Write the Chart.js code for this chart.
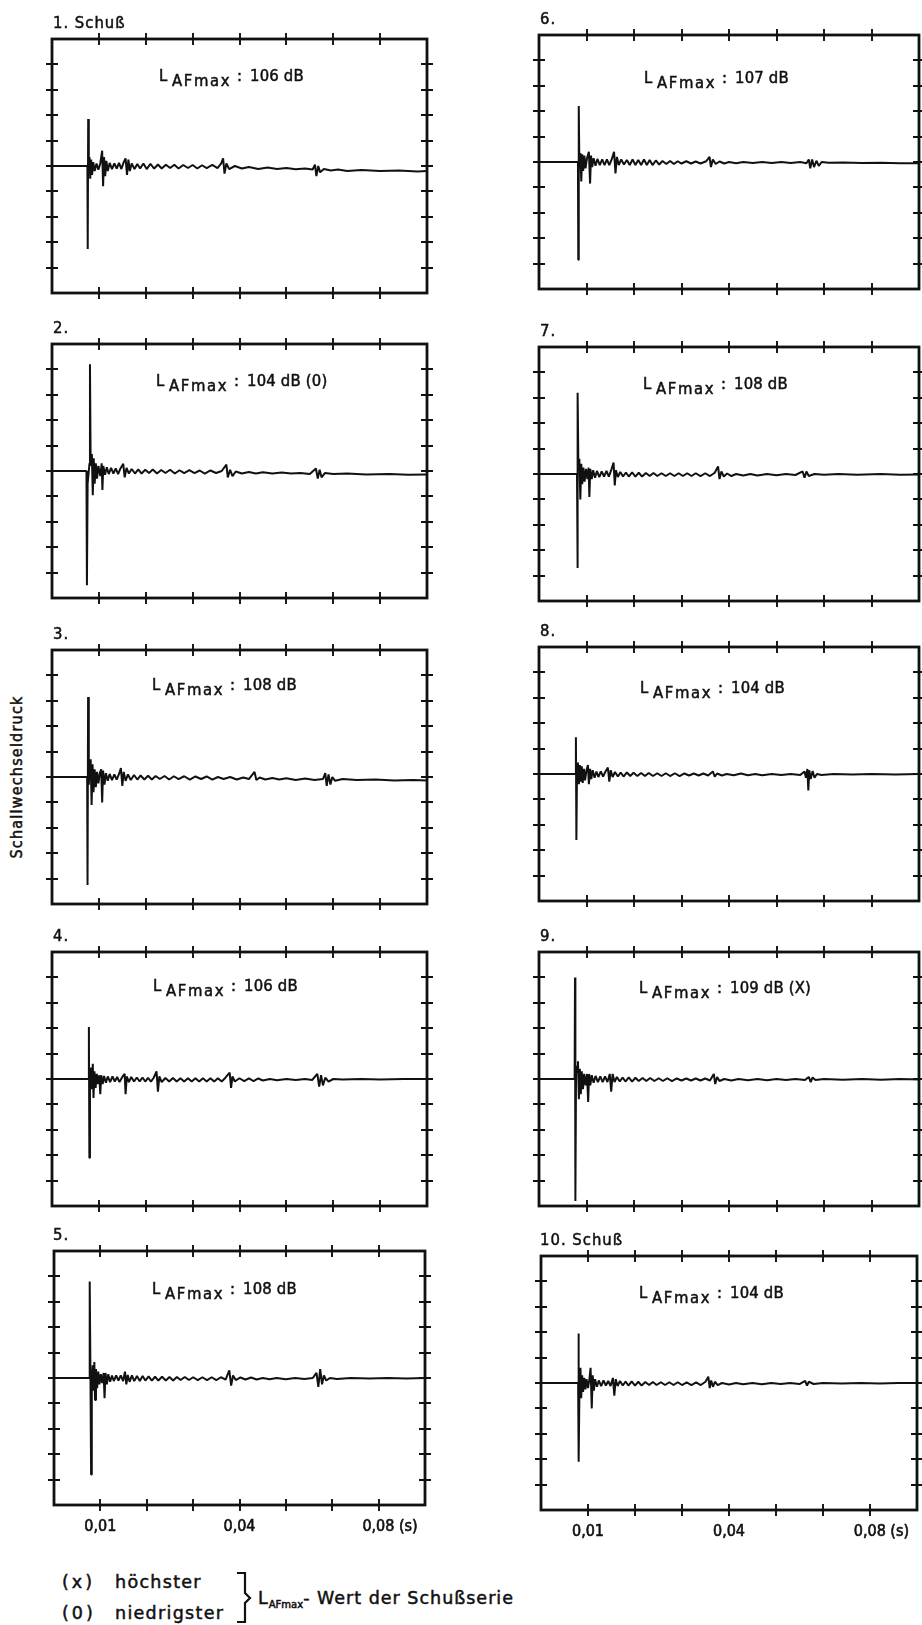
<!DOCTYPE html>
<html><head><meta charset="utf-8">
<script src="https://cdn.jsdelivr.net/npm/chart.js@4.4.0/dist/chart.umd.min.js"></script>
<style>
html,body{margin:0;padding:0;background:#fff;}
body{width:922px;height:1625px;position:relative;overflow:hidden;font-family:"DejaVu Sans Condensed","DejaVu Sans",sans-serif;color:#111;}
.panel{position:absolute;}
.txt{position:absolute;white-space:nowrap;-webkit-text-stroke:0.5px #111;}
.ann span{display:inline-block;}
</style>
</head><body>
<script>
// ---------- DATA ----------
// time axis in ms (0..80), sound pressure in screen divisions (-5..5)
const xGrid = [0,10,20,30,40,50,60,70,80];
const yGrid = [-5,-4,-3,-2,-1,0,1,2,3,4,5];
const tickLabels = ['', '0,01', '', '', '0,04', '', '', '     0,08 (s)', ''];
const shotNames = ['1. Schuß','2.','3.','4.','5.','6.','7.','8.','9.','10. Schuß'];
const levelText = ['106 dB','104 dB (0)','108 dB','106 dB','108 dB','107 dB','108 dB','104 dB','109 dB (X)','104 dB'];
const yTitle = 'Schallwechseldruck';

const shot1 = [[0,0],[7.55,0],[7.62,-3.27],[7.72,1.85],[7.85,-0.2],[8.0,0.35],[8.15,-0.5],[8.35,0.25],[8.55,-0.35],[8.8,0.15],[9.1,-0.2],[9.5,0.1],[9.9,-0.15],[10.3,0.1],[10.7,0.6],[10.9,-0.8],[11.1,0.35],[11.35,-0.4],[11.6,0.2],[11.9,-0.2],[12.3,0.12],[12.8,-0.12],[13.3,0.1],[13.8,-0.1],[14.3,0.12],[14.8,-0.12],[15.3,0.15],[15.7,0.3],[16.0,-0.35],[16.3,0.25],[16.6,-0.2],[17.0,0.1],[17.6,-0.12],[18.2,0.08],[18.8,-0.1],[19.5,0.1],[20.2,-0.12],[21.0,0.08],[21.8,-0.1],[22.6,0.06],[23.4,-0.1],[24.3,0.05],[25.2,-0.08],[26.1,0.05],[27.0,-0.1],[28.0,0.04],[29.0,-0.08],[30.0,0.04],[31.0,-0.1],[32.0,0.03],[33.0,-0.08],[34.2,0.04],[35.3,-0.08],[36.1,0.1],[36.5,0.3],[36.8,-0.3],[37.2,0.1],[37.8,-0.12],[39.0,0.0],[40.5,-0.1],[42.0,-0.04],[44.0,-0.12],[46.0,-0.06],[48.0,-0.12],[50.0,-0.08],[52.0,-0.13],[54.0,-0.1],[55.6,-0.14],[56.1,0.05],[56.4,-0.4],[56.8,0.0],[57.2,-0.25],[58.0,-0.12],[59.5,-0.18],[61.0,-0.14],[63.0,-0.2],[66.0,-0.16],[70.0,-0.2],[74.0,-0.18],[78.0,-0.22],[80.0,-0.2]];
const shot2 = [[0,0],[7.35,0],[7.45,-4.5],[7.6,-0.5],[8.0,0.3],[8.1,4.2],[8.25,0.2],[8.5,0.67],[8.7,-0.95],[8.9,0.5],[9.1,-0.5],[9.35,0.3],[9.6,-0.3],[9.9,0.2],[10.3,-0.2],[10.6,0.3],[10.75,-0.75],[10.95,0.2],[11.3,-0.15],[11.7,0.15],[12.1,-0.12],[12.6,0.12],[13.1,-0.1],[13.6,0.1],[14.1,-0.12],[14.6,0.1],[15.2,0.28],[15.5,-0.25],[15.9,0.12],[16.4,-0.1],[17.0,0.08],[17.7,-0.1],[18.4,0.06],[19.1,-0.1],[19.9,0.05],[20.7,-0.08],[21.5,0.06],[22.4,-0.1],[23.3,0.04],[24.2,-0.08],[25.2,0.05],[26.2,-0.1],[27.2,0.03],[28.2,-0.08],[29.3,0.03],[30.4,-0.08],[31.5,0.02],[32.6,-0.1],[33.8,0.02],[35.0,-0.08],[36.2,0.0],[37.2,0.25],[37.5,-0.25],[38.0,0.05],[38.5,-0.2],[39.2,-0.02],[40.5,-0.1],[42.0,-0.04],[43.5,-0.1],[45.0,-0.05],[47.0,-0.1],[49.0,-0.06],[51.0,-0.1],[53.0,-0.08],[55.0,-0.12],[56.3,0.1],[56.7,-0.3],[57.1,0.05],[57.5,-0.25],[58.2,-0.08],[60.0,-0.12],[63.0,-0.1],[67.0,-0.14],[72.0,-0.12],[76.0,-0.15],[80.0,-0.14]];
const shot3 = [[0,0],[7.5,0],[7.58,-4.25],[7.7,3.15],[7.85,-0.3],[8.05,0.4],[8.25,0.7],[8.45,-1.1],[8.65,0.5],[8.85,-0.6],[9.1,0.3],[9.35,-0.4],[9.6,0.2],[9.9,-0.25],[10.2,0.15],[10.5,0.3],[10.7,-1.0],[10.9,0.25],[11.2,-0.3],[11.5,0.15],[11.9,-0.15],[12.3,0.12],[12.8,-0.12],[13.3,0.1],[13.8,-0.1],[14.3,0.12],[14.7,0.35],[15.0,-0.35],[15.3,0.2],[15.7,-0.15],[16.2,0.1],[16.8,-0.12],[17.5,0.08],[18.2,-0.1],[18.9,0.06],[19.7,-0.1],[20.5,0.05],[21.3,-0.1],[22.1,0.04],[23.0,-0.08],[24.0,0.04],[25.0,-0.1],[26.0,0.03],[27.0,-0.08],[28.2,0.03],[29.4,-0.1],[30.6,0.02],[31.8,-0.08],[33.0,0.02],[34.2,-0.1],[35.4,0.0],[36.6,-0.08],[38.0,0.0],[39.4,-0.1],[40.8,-0.02],[42.0,-0.08],[43.2,0.2],[43.6,-0.12],[44.3,-0.02],[45.5,-0.1],[47.0,-0.04],[48.5,-0.1],[50.0,-0.05],[52.0,-0.12],[54.0,-0.06],[56.0,-0.12],[57.8,-0.08],[58.3,0.15],[58.6,-0.35],[59.0,0.1],[59.4,-0.3],[59.8,0.0],[60.4,-0.15],[62.0,-0.08],[65.0,-0.12],[69.0,-0.1],[73.0,-0.14],[77.0,-0.12],[80.0,-0.14]];
const shot4 = [[0,0],[7.8,0],[7.87,2.05],[7.97,-3.1],[8.1,0.1],[8.3,0.45],[8.5,-0.4],[8.7,0.6],[8.85,-0.75],[9.05,0.3],[9.3,-0.35],[9.55,0.2],[9.85,-0.2],[10.1,0.15],[10.3,-0.6],[10.5,0.15],[10.8,-0.2],[11.1,0.12],[11.5,-0.15],[11.9,0.1],[12.4,-0.12],[12.9,0.1],[13.4,-0.1],[13.9,0.08],[14.4,-0.12],[15.0,0.08],[15.5,0.2],[15.7,-0.6],[15.95,0.1],[16.4,-0.12],[16.9,0.08],[17.5,-0.1],[18.1,0.06],[18.7,-0.1],[19.3,0.06],[19.9,-0.1],[20.5,0.05],[21.1,-0.1],[21.7,0.05],[22.3,0.3],[22.6,-0.5],[22.9,0.1],[23.4,-0.12],[24.2,0.04],[25.0,-0.1],[25.8,0.04],[26.6,-0.1],[27.4,0.03],[28.2,-0.1],[29.0,0.03],[29.8,-0.1],[30.6,0.03],[31.4,-0.1],[32.2,0.03],[33.0,-0.1],[33.8,0.03],[34.6,-0.1],[35.4,0.03],[36.2,-0.1],[37.0,0.05],[37.9,0.25],[38.2,-0.35],[38.5,0.1],[39.0,-0.1],[40.0,0.03],[41.0,-0.08],[42.0,0.02],[43.0,-0.08],[44.0,0.02],[45.0,-0.06],[46.5,0.0],[48.0,-0.05],[50.0,0.0],[52.0,-0.04],[54.0,0.0],[55.5,-0.04],[56.6,0.2],[57.0,-0.3],[57.4,0.15],[57.8,-0.25],[58.3,0.05],[59.0,-0.1],[60.0,0.0],[62.0,-0.02],[66.0,0.0],[70.0,-0.02],[75.0,0.0],[80.0,0.0]];
const shot5 = [[0,0],[7.6,0],[7.7,3.8],[7.85,0.4],[8.0,-3.8],[8.15,-0.2],[8.35,0.5],[8.55,-0.5],[8.7,0.63],[8.85,-0.87],[9.05,0.35],[9.3,-0.4],[9.55,0.25],[9.8,-0.25],[10.1,0.15],[10.4,-0.2],[10.7,0.2],[10.9,-0.8],[11.1,0.2],[11.4,-0.25],[11.7,0.15],[12.1,-0.15],[12.5,0.1],[12.9,-0.12],[13.4,0.1],[13.9,-0.1],[14.4,0.1],[14.9,-0.12],[15.3,0.25],[15.6,-0.25],[15.9,0.12],[16.3,-0.15],[16.8,0.1],[17.3,-0.12],[17.9,0.08],[18.5,-0.12],[19.1,0.08],[19.7,-0.1],[20.4,0.06],[21.1,-0.1],[21.8,0.05],[22.5,-0.1],[23.3,0.05],[24.1,-0.1],[24.9,0.04],[25.7,-0.1],[26.5,0.04],[27.3,-0.08],[28.2,0.04],[29.1,-0.08],[30.0,0.03],[31.0,-0.08],[32.0,0.03],[33.0,-0.08],[34.0,0.03],[35.0,-0.08],[36.0,0.03],[37.0,-0.06],[37.8,0.3],[38.2,-0.3],[38.6,0.1],[39.2,-0.08],[40.2,0.02],[41.3,-0.06],[42.5,0.02],[43.7,-0.06],[45.0,0.0],[46.5,-0.05],[48.0,0.0],[50.0,-0.05],[52.0,0.0],[54.0,-0.04],[55.8,0.0],[56.6,0.2],[57.0,-0.35],[57.4,0.35],[57.8,-0.25],[58.2,0.1],[58.7,-0.1],[59.5,0.0],[61.0,-0.04],[64.0,0.0],[68.0,-0.02],[72.0,0.0],[76.0,-0.02],[80.0,0.0]];
const shot6 = [[0,0],[8.2,0],[8.27,-3.85],[8.37,2.2],[8.5,-0.1],[8.7,0.35],[8.9,-0.77],[9.1,0.3],[9.3,-0.35],[9.55,0.25],[9.8,-0.25],[10.1,0.15],[10.5,0.4],[10.75,-0.85],[10.95,0.25],[11.2,-0.2],[11.5,0.15],[11.9,-0.15],[12.3,0.12],[12.8,-0.12],[13.3,0.1],[13.8,-0.12],[14.3,0.1],[14.8,-0.12],[15.3,0.1],[15.8,0.4],[16.1,-0.45],[16.4,0.2],[16.8,-0.12],[17.3,0.1],[17.9,-0.1],[18.5,0.08],[19.1,-0.12],[19.7,0.1],[20.3,-0.12],[20.9,0.08],[21.5,-0.12],[22.1,0.1],[22.7,-0.12],[23.3,0.08],[23.9,-0.12],[24.6,0.06],[25.3,-0.1],[26.0,0.04],[26.8,-0.08],[27.6,0.04],[28.4,-0.08],[29.2,0.03],[30.0,-0.06],[31.0,0.03],[32.0,-0.06],[33.0,0.02],[34.0,-0.06],[35.2,0.03],[35.9,0.2],[36.2,-0.2],[36.6,0.1],[37.2,-0.08],[38.0,0.02],[39.0,-0.06],[40.0,0.0],[41.5,-0.05],[43.0,0.0],[45.0,-0.04],[47.0,0.0],[49.0,-0.04],[51.0,0.0],[53.0,-0.04],[55.0,0.0],[56.3,-0.05],[56.8,0.1],[57.1,-0.25],[57.5,0.1],[57.9,-0.2],[58.4,0.05],[58.9,-0.15],[59.5,0.0],[61.0,-0.03],[64.0,-0.02],[68.0,-0.04],[72.0,-0.03],[76.0,-0.05],[80.0,-0.05]];
const shot7 = [[0,0],[8.0,0],[8.08,-3.7],[8.18,3.2],[8.3,0.2],[8.5,0.6],[8.7,-1.0],[8.9,0.4],[9.1,-0.4],[9.35,0.25],[9.6,-0.3],[9.9,0.2],[10.2,-0.2],[10.45,0.25],[10.6,-0.9],[10.8,0.2],[11.1,-0.2],[11.4,0.15],[11.8,-0.15],[12.2,0.12],[12.7,-0.12],[13.2,0.1],[13.7,-0.1],[14.2,0.12],[14.7,-0.1],[15.2,0.15],[15.7,0.45],[15.95,-0.45],[16.2,0.15],[16.6,-0.12],[17.1,0.08],[17.7,-0.1],[18.3,0.06],[18.9,-0.1],[19.6,0.06],[20.3,-0.1],[21.0,0.05],[21.7,-0.1],[22.5,0.04],[23.3,-0.08],[24.1,0.04],[24.9,-0.08],[25.8,0.03],[26.7,-0.08],[27.6,0.03],[28.5,-0.08],[29.4,0.03],[30.3,-0.08],[31.2,0.03],[32.1,-0.08],[33.0,0.03],[34.0,-0.08],[35.0,0.03],[36.0,-0.08],[37.0,0.05],[37.7,0.3],[38.0,-0.2],[38.4,0.1],[38.9,-0.1],[39.6,0.02],[40.5,-0.08],[41.5,0.0],[43.0,-0.06],[44.5,0.0],[46.0,-0.06],[48.0,0.0],[50.0,-0.05],[52.0,0.0],[54.0,-0.04],[55.5,0.1],[55.9,-0.15],[56.3,0.1],[56.8,-0.08],[58.0,0.0],[60.0,-0.03],[63.0,0.0],[67.0,-0.03],[72.0,0.0],[76.0,-0.03],[80.0,-0.02]];
const shot8 = [[0,0],[7.7,0],[7.77,1.45],[7.87,-2.6],[8.0,0.1],[8.2,0.45],[8.4,-0.4],[8.6,0.35],[8.8,-0.3],[9.0,0.3],[9.2,-0.35],[9.45,0.2],[9.7,-0.25],[10.0,0.15],[10.3,0.35],[10.5,-0.4],[10.75,0.2],[11.0,-0.2],[11.3,0.15],[11.7,-0.15],[12.1,0.1],[12.5,-0.12],[13.0,0.1],[13.5,-0.1],[14.0,0.1],[14.5,0.25],[14.8,-0.3],[15.1,0.15],[15.5,-0.12],[16.0,0.08],[16.6,-0.1],[17.2,0.06],[17.8,-0.1],[18.5,0.06],[19.2,-0.08],[19.9,0.05],[20.7,-0.08],[21.5,0.04],[22.3,-0.08],[23.1,0.04],[24.0,-0.08],[24.9,0.03],[25.8,-0.08],[26.7,0.03],[27.6,-0.08],[28.6,0.03],[29.6,-0.08],[30.6,0.02],[31.6,-0.06],[32.6,0.02],[33.6,-0.06],[34.6,0.02],[35.6,-0.06],[36.6,0.1],[37.0,-0.1],[37.5,0.02],[38.5,-0.06],[39.5,0.0],[41.0,-0.05],[42.5,0.02],[44.0,-0.05],[45.5,0.0],[47.0,-0.05],[49.0,0.0],[51.0,-0.04],[53.0,0.0],[55.0,-0.04],[55.9,0.1],[56.2,-0.15],[56.5,0.2],[56.7,-0.65],[56.9,0.15],[57.2,-0.2],[57.6,0.12],[58.0,-0.15],[58.5,0.0],[59.5,-0.04],[62.0,0.0],[66.0,-0.02],[70.0,0.0],[75.0,-0.02],[80.0,0.0]];
const shot9 = [[0,0],[7.5,0],[7.58,4.0],[7.66,-4.8],[7.8,0.2],[8.0,0.5],[8.2,0.7],[8.4,-0.8],[8.6,0.4],[8.8,-0.6],[9.0,0.3],[9.25,-0.4],[9.5,0.2],[9.8,-0.25],[10.1,0.2],[10.35,-0.9],[10.55,0.2],[10.8,-0.25],[11.1,0.15],[11.5,-0.15],[11.9,0.12],[12.4,-0.12],[12.9,0.1],[13.4,-0.12],[13.9,0.1],[14.4,-0.12],[14.9,0.2],[15.2,-0.5],[15.5,0.2],[15.9,-0.12],[16.4,0.08],[17.0,-0.1],[17.6,0.06],[18.2,-0.1],[18.9,0.06],[19.6,-0.1],[20.3,0.05],[21.0,-0.08],[21.8,0.04],[22.6,-0.08],[23.4,0.04],[24.3,-0.08],[25.2,0.03],[26.1,-0.08],[27.0,0.03],[28.0,-0.08],[29.0,0.02],[30.0,-0.06],[31.0,0.02],[32.0,-0.06],[33.0,0.02],[34.0,-0.06],[35.0,0.02],[36.0,-0.06],[36.8,0.2],[37.1,-0.2],[37.5,0.08],[38.0,-0.08],[39.0,0.0],[40.5,-0.06],[42.0,0.0],[44.0,-0.05],[46.0,0.0],[48.0,-0.05],[50.0,0.0],[52.0,-0.04],[54.0,0.0],[56.0,-0.04],[56.8,0.08],[57.2,-0.12],[57.6,0.06],[58.2,-0.04],[60.0,0.0],[64.0,-0.03],[68.0,0.0],[72.0,-0.03],[76.0,0.0],[80.0,-0.02]];
const shot10 = [[0,0],[7.9,0],[7.97,1.95],[8.05,-3.1],[8.2,0.1],[8.4,0.6],[8.55,-0.6],[8.75,0.3],[8.95,-0.35],[9.2,0.2],[9.45,-0.25],[9.7,0.15],[10.0,-0.2],[10.3,0.15],[10.55,0.6],[10.8,-1.0],[11.0,0.3],[11.25,-0.3],[11.5,0.15],[11.9,-0.15],[12.3,0.1],[12.8,-0.12],[13.3,0.1],[13.8,-0.1],[14.3,0.08],[14.8,-0.12],[15.3,0.2],[15.6,-0.5],[15.9,0.15],[16.3,-0.12],[16.8,0.08],[17.4,-0.1],[18.0,0.06],[18.6,-0.1],[19.3,0.06],[20.0,-0.1],[20.7,0.05],[21.4,-0.1],[22.2,0.04],[23.0,-0.08],[23.8,0.04],[24.6,-0.08],[25.5,0.03],[26.4,-0.08],[27.3,0.03],[28.2,-0.08],[29.1,0.03],[30.0,-0.08],[31.0,0.02],[32.0,-0.08],[33.0,0.02],[34.0,-0.08],[35.0,0.05],[35.6,0.25],[35.9,-0.2],[36.2,0.1],[36.6,-0.15],[37.0,0.05],[37.6,-0.08],[38.5,0.0],[40.0,-0.06],[41.5,0.0],[43.0,-0.05],[45.0,0.0],[47.0,-0.05],[49.0,0.0],[51.0,-0.04],[53.0,0.0],[55.0,-0.04],[56.2,0.08],[56.6,-0.1],[57.0,0.05],[58.0,-0.04],[60.0,0.0],[64.0,-0.02],[68.0,0.0],[72.0,-0.02],[76.0,0.0],[80.0,0.0]];
const shots = [shot1,shot2,shot3,shot4,shot5,shot6,shot7,shot8,shot9,shot10];

// ---------- LAYOUT ----------
const FONT = '"DejaVu Sans Condensed","DejaVu Sans",sans-serif';
const LEGFONT = '"DejaVu Sans",sans-serif';
const INK = '#111';
const colLeft = [52, 539];
const colWidth = [375, 380];
const frameH = 254;
const rowTop = [[39,344,650,952,1251],[35,347,647,952,1256]];
const annDx = [107,104,100,101,100,105,104,101,100,100];
const annDy = [43,43,41,40,44,49,43,47,42,43];
const PAD = 10, AXH = 40, TICK = 6;

Chart.defaults.font.family = FONT;
Chart.defaults.color = INK;

const framePlugin = {
  id: 'frame',
  afterDatasetsDraw(chart) {
    const {ctx, chartArea: a, scales: {x, y}} = chart;
    ctx.save();
    ctx.strokeStyle = INK;
    ctx.lineWidth = 2.8;
    ctx.strokeRect(a.left, a.top, a.right - a.left, a.bottom - a.top);
    ctx.lineWidth = 1.9;
    ctx.beginPath();
    xGrid.slice(1, -1).forEach(v => {
      const px = Math.round(x.getPixelForValue(v));
      ctx.moveTo(px, a.top - TICK); ctx.lineTo(px, a.top + TICK);
      ctx.moveTo(px, a.bottom - TICK); ctx.lineTo(px, a.bottom + TICK);
    });
    yGrid.slice(1, -1).forEach(v => {
      const py = Math.round(y.getPixelForValue(v));
      ctx.moveTo(a.left - TICK, py); ctx.lineTo(a.left + TICK, py);
      ctx.moveTo(a.right - TICK, py); ctx.lineTo(a.right + TICK, py);
    });
    ctx.stroke();
    ctx.restore();
  }
};

function addText(html, left, baseline, size, extra) {
  const d = document.createElement('div');
  d.className = 'txt';
  d.style.fontSize = size + 'px';
  d.style.lineHeight = size + 'px';
  d.style.left = left + 'px';
  d.style.top = (baseline - 0.846 * size) + 'px';
  if (extra) Object.assign(d.style, extra);
  d.innerHTML = html;
  document.body.appendChild(d);
  return d;
}

shots.forEach((shot, i) => {
  const col = i < 5 ? 0 : 1, row = i % 5;
  const fl = colLeft[col], ft = rowTop[col][row], fw = colWidth[col];
  const bottomRow = row === 4;
  const ax = bottomRow ? AXH : 0;
  const W = fw + 2 * PAD, H = frameH + 2 * PAD + ax;
  const wrap = document.createElement('div');
  wrap.className = 'panel';
  Object.assign(wrap.style, {left: (fl - PAD) + 'px', top: (ft - PAD) + 'px', width: W + 'px', height: H + 'px'});
  const cv = document.createElement('canvas');
  cv.width = W; cv.height = H;
  cv.style.width = W + 'px'; cv.style.height = H + 'px';
  wrap.appendChild(cv);
  document.body.appendChild(wrap);

  new Chart(cv, {
    type: 'line',
    data: {datasets: [{
      data: shot.map(([t, p]) => ({x: t, y: p})),
      borderColor: INK, borderWidth: 2, borderJoinStyle: 'bevel',
      pointRadius: 0, tension: 0, fill: false
    }]},
    options: {
      responsive: false, animation: false, devicePixelRatio: 1,
      layout: {padding: {left: PAD, right: PAD, top: PAD, bottom: PAD}},
      plugins: {legend: {display: false}, tooltip: {enabled: false}, title: {display: false}},
      scales: {
        x: {
          type: 'linear', min: 0, max: 80, display: bottomRow,
          grid: {display: false, drawTicks: false}, border: {display: false},
          afterBuildTicks: s => { s.ticks = xGrid.map(v => ({value: v})); },
          afterFit: s => { s.height = ax; },
          ticks: {autoSkip: false, maxRotation: 0, minRotation: 0, padding: 12, color: INK,
                  textStrokeColor: INK, textStrokeWidth: 0.6,
                  font: {family: FONT, size: 16}, callback: (v, idx) => tickLabels[idx]}
        },
        y: {type: 'linear', min: -5, max: 5, display: false}
      }
    },
    plugins: [framePlugin]
  });

  // panel title
  addText(shotNames[i], fl + 1, ft - 10, 16.5, {letterSpacing: '1px'});
  // L_AFmax annotation
  const ann = addText(
    '<span style="width:13px">L</span>' +
    '<span style="width:65px;position:relative;top:5px;letter-spacing:1.6px">AFmax</span>' +
    '<span style="width:13px">:</span>' +
    '<span style="letter-spacing:0.2px">' + levelText[i] + '</span>',
    fl + annDx[i], ft + annDy[i], 16.5);
  ann.classList.add('ann');
});

// y-axis title (rotated)
const yt = document.createElement('div');
yt.className = 'txt';
yt.textContent = yTitle;
Object.assign(yt.style, {fontSize: '16px', lineHeight: '18px', width: '180px', textAlign: 'center',
  left: (17 - 90) + 'px', top: (777 - 9) + 'px', letterSpacing: '1.2px',
  transform: 'rotate(-90deg)', transformOrigin: '90px 9px'});
document.body.appendChild(yt);

// footnote legend
const legStyle = {fontFamily: LEGFONT};
addText('<span style="letter-spacing:3px">(x)</span>', 62, 1589, 17.5, legStyle);
addText('höchster', 115, 1589, 17.5, Object.assign({letterSpacing: '1.3px'}, legStyle));
addText('<span style="letter-spacing:3px">(0)</span>', 62, 1620, 17.5, legStyle);
addText('niedrigster', 115, 1620, 17.5, Object.assign({letterSpacing: '1.3px'}, legStyle));
addText('L<span style="font-size:10px;position:relative;top:4px;letter-spacing:0">AFmax</span>- Wert der Schußserie', 258, 1605, 17.5, Object.assign({letterSpacing: '1px'}, legStyle));
</script>
<svg style="position:absolute;left:0;top:0" width="922" height="1625"><path d="M237,1573 L245,1573 L245,1593 L250,1598 L245,1603 L245,1622 L237,1622" fill="none" stroke="#111" stroke-width="2.2"/></svg>
</body></html>
